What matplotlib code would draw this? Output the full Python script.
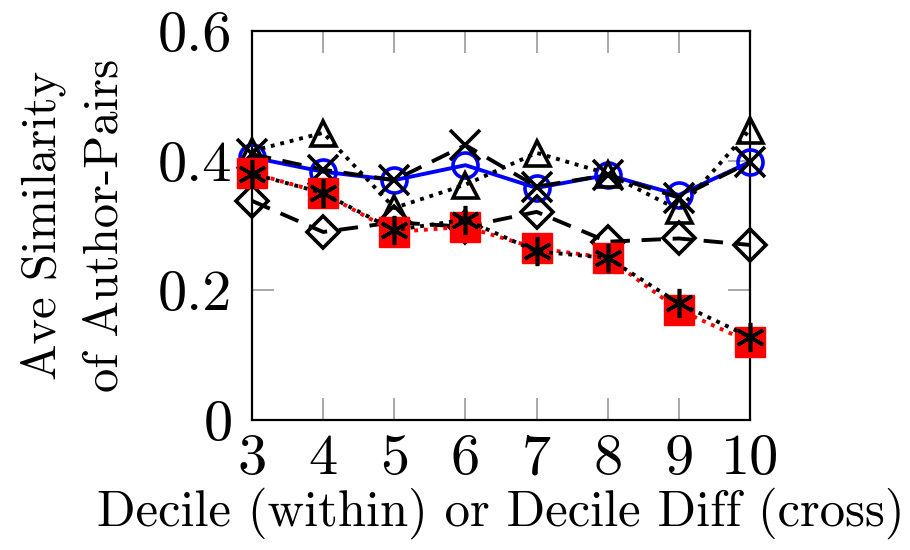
import matplotlib
matplotlib.use("Agg")
from matplotlib import pyplot as plt

plt.rcParams['font.family'] = ['cmr10', 'DejaVu Serif']
plt.rcParams['axes.formatter.use_mathtext'] = True
plt.rcParams['mathtext.fontset'] = 'cm'

deciles = [3, 4, 5, 6, 7, 8, 9, 10]
circle_vals = [0.405, 0.383, 0.370, 0.393, 0.358, 0.378, 0.347, 0.398]
cross_vals = [0.410, 0.386, 0.370, 0.424, 0.360, 0.378, 0.343, 0.398]
triangle_vals = [0.415, 0.443, 0.327, 0.363, 0.412, 0.380, 0.324, 0.448]
diamond_vals = [0.338, 0.290, 0.305, 0.298, 0.321, 0.275, 0.280, 0.270]
square_vals = [0.381, 0.350, 0.290, 0.298, 0.265, 0.250, 0.170, 0.120]
aster_vals = [0.380, 0.350, 0.293, 0.309, 0.260, 0.250, 0.180, 0.128]

y_ticks = [0, 0.2, 0.4, 0.6]
y_tick_labels = ["0", "0.2", "0.4", "0.6"]

fig = plt.figure(figsize=(9.1, 5.5), dpi=100)
ax = fig.add_axes([252 / 910, 130 / 550, 498 / 910, 389 / 550])

lw = 2.8
mew = 2.6
common = dict(clip_on=False, zorder=4)
ax.plot(deciles, circle_vals, color="blue", linestyle="-", linewidth=lw,
        marker="o", markersize=18, fillstyle="none", markeredgewidth=mew, **common)
ax.plot(deciles, cross_vals, color="black", linestyle=(0, (5, 3)), linewidth=lw,
        marker="x", markersize=21, markeredgewidth=mew, **common)
ax.plot(deciles, triangle_vals, color="black", linestyle=(0, (1, 1.5)), linewidth=lw,
        marker="^", markersize=18, fillstyle="none", markeredgewidth=mew, **common)
ax.plot(deciles, diamond_vals, color="black", linestyle=(0, (5, 3)), linewidth=lw,
        marker="D", markersize=16, fillstyle="none", markeredgewidth=mew, **common)
ax.plot(deciles, square_vals, color="red", linestyle=(0, (1, 1.5)), linewidth=lw,
        marker="s", markersize=21, markerfacecolor="red", markeredgecolor="red",
        **common)
ax.plot(deciles, aster_vals, color="black", linestyle=(1.2, (1, 1.5)), linewidth=lw,
        marker=(6, 2, 0), markersize=21, markeredgewidth=mew, **common)

ax.set_xlim(3, 10)
ax.set_ylim(0, 0.6)
ax.set_xticks(deciles)
ax.set_xticklabels([str(d) for d in deciles])
ax.set_yticks(y_ticks)
ax.set_yticklabels(y_tick_labels)
ax.tick_params(direction="in", length=16, width=1.2, color="#999999",
               top=True, right=True, labelsize=42)
ax.tick_params(axis="x", pad=10)
ax.tick_params(axis="y", pad=14)
for s in ax.spines.values():
    s.set_linewidth(1.6)
    s.set_color("black")
    s.set_zorder(3)

ax.set_xlabel("Decile (within) or Decile Diff (cross)", fontsize=36.5, labelpad=2)
ax.set_ylabel("Ave Similarity\nof Author-Pairs", fontsize=35, labelpad=22,
              linespacing=1.5)

fig.savefig("out.png", dpi=100)
